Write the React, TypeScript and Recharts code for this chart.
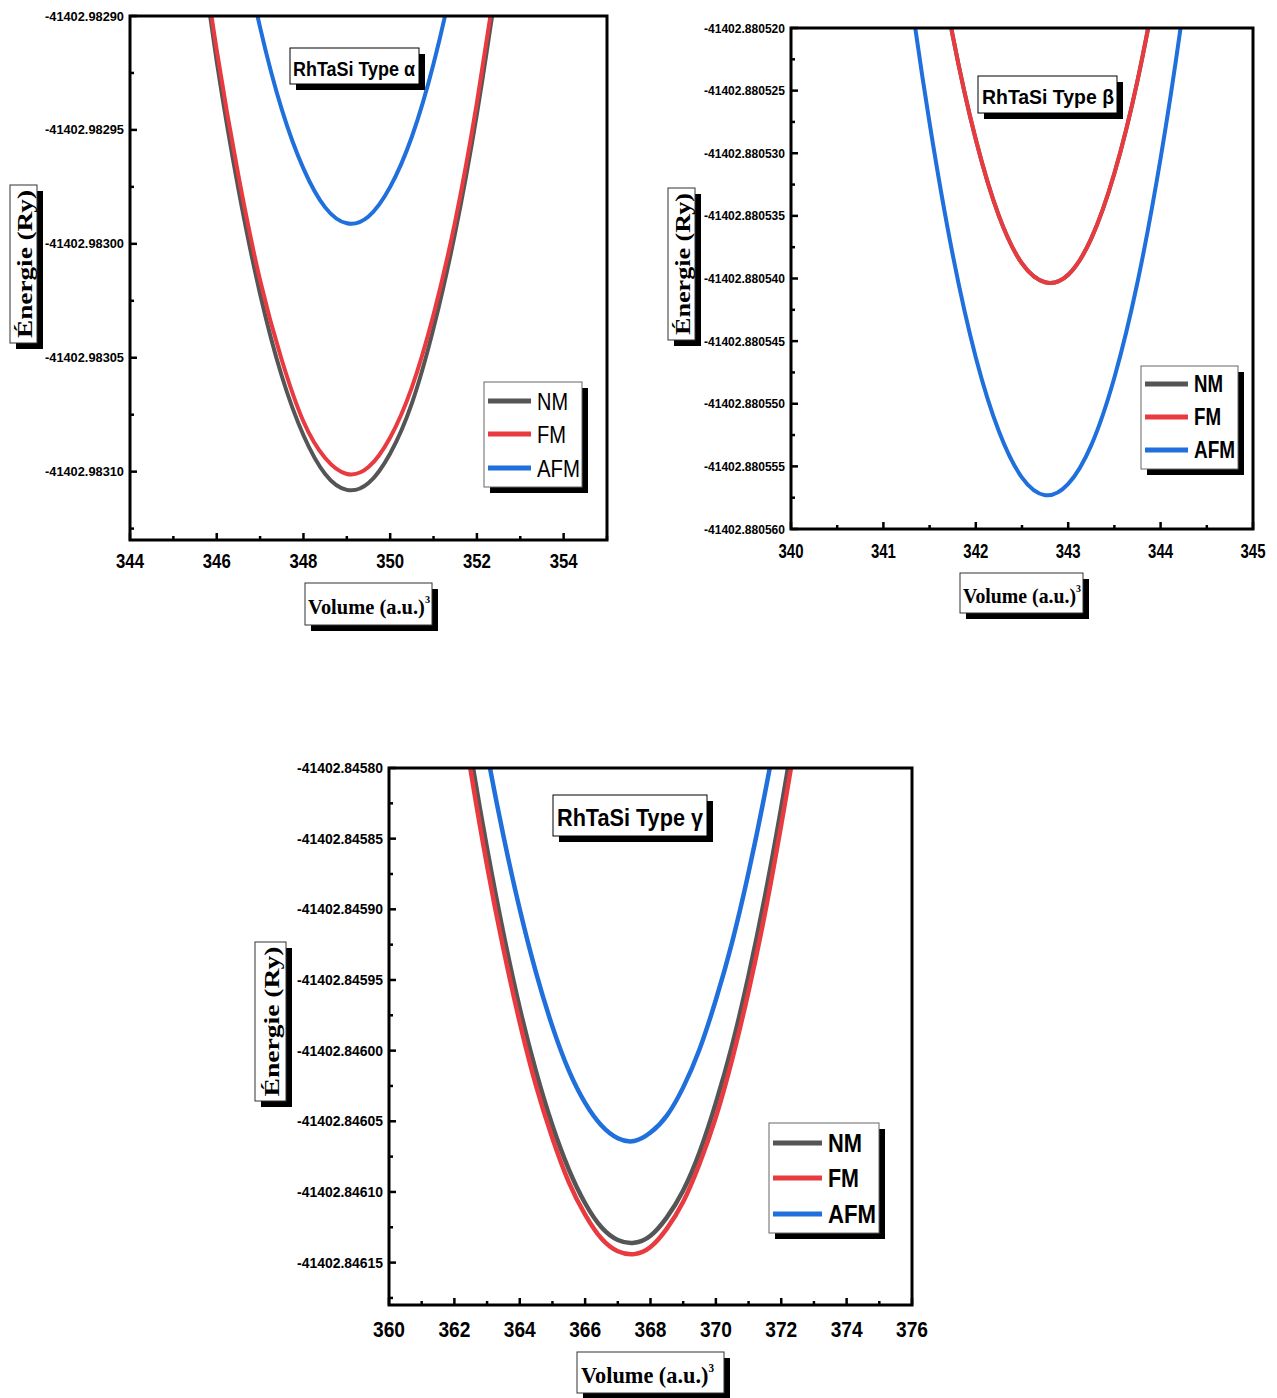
import React from "react";
import { LineChart, Line, XAxis, YAxis } from "recharts";

// ---------- RhTaSi Type α ----------
const alphaVolume = [345.5, 346, 346.5, 347, 347.5, 348, 348.5, 349, 349.5, 350, 350.5, 351, 351.5, 352, 352.5];
const alphaNM = [-41402.982854, -41402.98292, -41402.982976, -41402.983022, -41402.983058, -41402.983084, -41402.983101, -41402.983108, -41402.983105, -41402.983092, -41402.98307, -41402.983037, -41402.982995, -41402.982943, -41402.982881];
const alphaFM = [-41402.98285, -41402.982915, -41402.98297, -41402.983016, -41402.983051, -41402.983078, -41402.983094, -41402.983101, -41402.983098, -41402.983085, -41402.983063, -41402.983031, -41402.98299, -41402.982938, -41402.982877];
const alphaAFM = [-41402.982738, -41402.982804, -41402.982859, -41402.982905, -41402.982941, -41402.982967, -41402.982984, -41402.982991, -41402.982988, -41402.982975, -41402.982953, -41402.982921, -41402.982879, -41402.982827, -41402.982766];
const alphaXTicks = [344, 345, 346, 347, 348, 349, 350, 351, 352, 353, 354, 355];
const alphaYTicks = [-41402.9829, -41402.982925, -41402.98295, -41402.982975, -41402.983, -41402.983025, -41402.98305, -41402.983075, -41402.9831, -41402.983125];

// ---------- RhTaSi Type β ----------
const betaVolume = [341, 341.25, 341.5, 341.75, 342, 342.25, 342.5, 342.75, 343, 343.25, 343.5, 343.75, 344, 344.25, 344.5];
const betaFM = [-41402.8804822, -41402.8804972, -41402.88051, -41402.8805206, -41402.8805289, -41402.880535, -41402.8805388, -41402.8805403, -41402.8805397, -41402.8805368, -41402.8805316, -41402.8805242, -41402.8805145, -41402.8805026, -41402.8804885];
// NM lies under FM in this panel
const betaNM = [-41402.8804822, -41402.8804972, -41402.88051, -41402.8805206, -41402.8805289, -41402.880535, -41402.8805388, -41402.8805403, -41402.8805397, -41402.8805368, -41402.8805316, -41402.8805242, -41402.8805145, -41402.8805026, -41402.8804885];
const betaAFM = [-41402.8804999, -41402.8805149, -41402.8805276, -41402.8805381, -41402.8805463, -41402.8805522, -41402.8805559, -41402.8805573, -41402.8805564, -41402.8805533, -41402.8805479, -41402.8805403, -41402.8805304, -41402.8805182, -41402.8805038];
const betaXTicks = [340, 340.5, 341, 341.5, 342, 342.5, 343, 343.5, 344, 344.5, 345];
const betaYTicks = [-41402.88052, -41402.8805225, -41402.880525, -41402.8805275, -41402.88053, -41402.8805325, -41402.880535, -41402.8805375, -41402.88054, -41402.8805425, -41402.880545, -41402.8805475, -41402.88055, -41402.8805525, -41402.880555, -41402.8805575, -41402.88056];

// ---------- RhTaSi Type γ ----------
const gammaVolume = [362, 362.5, 363, 363.5, 364, 364.5, 365, 365.5, 366, 366.5, 367, 367.5, 368, 368.5, 369, 369.5, 370, 370.5, 371, 371.5, 372, 372.5, 373];
const gammaNM = [-41402.845715, -41402.84579, -41402.845857, -41402.845917, -41402.84597, -41402.846015, -41402.846053, -41402.846084, -41402.846108, -41402.846125, -41402.846134, -41402.846136, -41402.846131, -41402.846118, -41402.846099, -41402.846072, -41402.846037, -41402.845996, -41402.845947, -41402.845891, -41402.845828, -41402.845758, -41402.84568];
const gammaFM = [-41402.845729, -41402.845802, -41402.845869, -41402.845928, -41402.84598, -41402.846025, -41402.846062, -41402.846093, -41402.846116, -41402.846133, -41402.846142, -41402.846144, -41402.846139, -41402.846126, -41402.846107, -41402.84608, -41402.846047, -41402.846006, -41402.845958, -41402.845903, -41402.84584, -41402.845771, -41402.845694];
const gammaAFM = [-41402.845648, -41402.845722, -41402.845789, -41402.845848, -41402.8459, -41402.845945, -41402.845983, -41402.846014, -41402.846037, -41402.846053, -41402.846062, -41402.846064, -41402.846058, -41402.846046, -41402.846026, -41402.845999, -41402.845964, -41402.845923, -41402.845874, -41402.845818, -41402.845755, -41402.845685, -41402.845607];
const gammaXTicks = [360, 361, 362, 363, 364, 365, 366, 367, 368, 369, 370, 371, 372, 373, 374, 375, 376];
const gammaYTicks = [-41402.8458, -41402.845825, -41402.84585, -41402.845875, -41402.8459, -41402.845925, -41402.84595, -41402.845975, -41402.846, -41402.846025, -41402.84605, -41402.846075, -41402.8461, -41402.846125, -41402.84615, -41402.846175];

const seriesNames = ["NM", "FM", "AFM"];
const seriesColors = ["#555555", "#e83a3f", "#1f6fdc"];

const SANS = "'Liberation Sans', Arial, sans-serif";
const SERIF = "'Liberation Serif', 'Times New Roman', serif";

type PanelCfg = {
  left: number; top: number; width: number; height: number;
  plot: { l: number; t: number; r: number; b: number };
  volume: number[]; nm: number[]; fm: number[]; afm: number[];
  xDomain: [number, number]; yDomain: [number, number];
  xTicks: number[]; yTicks: number[];
  xDigits: number; yDigits: number;
  xFont: number; xLen: number; xBase: number;
  yFont: number; yLen: number;
  lineWidth: number;
};

const panels: PanelCfg[] = [
  {
    left: 0, top: 0, width: 640, height: 580,
    plot: { l: 130, t: 16, r: 607, b: 540 },
    volume: alphaVolume, nm: alphaNM, fm: alphaFM, afm: alphaAFM,
    xDomain: [344, 355], yDomain: [-41402.98313, -41402.9829],
    xTicks: alphaXTicks, yTicks: alphaYTicks, xDigits: 0, yDigits: 5,
    xFont: 21, xLen: 28, xBase: 28, yFont: 13, yLen: 79, lineWidth: 4,
  },
  {
    left: 690, top: 0, width: 587, height: 570,
    plot: { l: 791, t: 28, r: 1253, b: 529 },
    volume: betaVolume, nm: betaNM, fm: betaFM, afm: betaAFM,
    xDomain: [340, 345], yDomain: [-41402.88056, -41402.88052],
    xTicks: betaXTicks, yTicks: betaYTicks, xDigits: 0, yDigits: 6,
    xFont: 21, xLen: 25, xBase: 29, yFont: 13, yLen: 81, lineWidth: 4,
  },
  {
    left: 280, top: 750, width: 680, height: 600,
    plot: { l: 389, t: 768, r: 912, b: 1305 },
    volume: gammaVolume, nm: gammaNM, fm: gammaFM, afm: gammaAFM,
    xDomain: [360, 376], yDomain: [-41402.84618, -41402.8458],
    xTicks: gammaXTicks, yTicks: gammaYTicks, xDigits: 0, yDigits: 5,
    xFont: 22, xLen: 32, xBase: 32, yFont: 14, yLen: 86, lineWidth: 4.5,
  },
];

function Panel({ cfg }: { cfg: PanelCfg }) {
  const data = cfg.volume.map((v, i) => ({ v, nm: cfg.nm[i], fm: cfg.fm[i], afm: cfg.afm[i] }));
  const yw = cfg.plot.l - cfg.left;
  const x0 = yw;
  const yb = cfg.plot.b - cfg.top;
  const xh = cfg.top + cfg.height - 10 - cfg.plot.b;

  const yTick = (p: any) => {
    const major = p.index % 2 === 0;
    return (
      <g>
        <line x1={x0} x2={x0 + (major ? 7 : 4)} y1={p.y} y2={p.y} stroke="#000" strokeWidth={2.5} />
        {major && (
          <text x={x0 - 6} y={p.y} textAnchor="end" dominantBaseline="central" fontFamily={SANS}
            fontWeight="bold" fontSize={cfg.yFont} fill="#000" textLength={cfg.yLen} lengthAdjust="spacingAndGlyphs">
            {Number(p.payload.value).toFixed(cfg.yDigits)}
          </text>
        )}
      </g>
    );
  };

  const xTick = (p: any) => {
    const major = p.index % 2 === 0;
    return (
      <g>
        <line x1={p.x} x2={p.x} y1={yb} y2={yb - (major ? 7 : 4)} stroke="#000" strokeWidth={2.5} />
        {major && (
          <text x={p.x} y={yb + cfg.xBase} textAnchor="middle" fontFamily={SANS} fontWeight="bold"
            fontSize={cfg.xFont} fill="#000" textLength={cfg.xLen} lengthAdjust="spacingAndGlyphs">
            {Number(p.payload.value).toFixed(cfg.xDigits)}
          </text>
        )}
      </g>
    );
  };

  return (
    <div style={{ position: "absolute", left: cfg.left, top: cfg.top }}>
      <LineChart
        width={cfg.width}
        height={cfg.height}
        data={data}
        margin={{ top: cfg.plot.t - cfg.top, right: cfg.left + cfg.width - cfg.plot.r, left: 0, bottom: 10 }}
      >
        <XAxis type="number" dataKey="v" domain={cfg.xDomain} allowDataOverflow ticks={cfg.xTicks}
          interval={0} height={xh} axisLine={false} tickLine={false} tick={xTick} />
        <YAxis type="number" domain={cfg.yDomain} allowDataOverflow ticks={cfg.yTicks}
          interval={0} width={yw} axisLine={false} tickLine={false} tick={yTick} />
        <Line type="natural" dataKey="nm" stroke={seriesColors[0]} strokeWidth={cfg.lineWidth} dot={false} isAnimationActive={false} />
        <Line type="natural" dataKey="fm" stroke={seriesColors[1]} strokeWidth={cfg.lineWidth} dot={false} isAnimationActive={false} />
        <Line type="natural" dataKey="afm" stroke={seriesColors[2]} strokeWidth={cfg.lineWidth} dot={false} isAnimationActive={false} />
      </LineChart>
    </div>
  );
}

type Box = { x: number; y: number; w: number; h: number };

function ShadowBox({ b, stroke = "#000", sw = 1 }: { b: Box; stroke?: string; sw?: number }) {
  return (
    <g>
      <rect x={b.x + 6} y={b.y + 6} width={b.w} height={b.h} fill="#000" />
      <rect x={b.x} y={b.y} width={b.w} height={b.h} fill="#fff" stroke={stroke} strokeWidth={sw} />
    </g>
  );
}

function Decorations() {
  const titles = [
    { b: { x: 290, y: 48, w: 129, h: 36 }, text: "RhTaSi Type α", tx: 293, ty: 76, fs: 21, len: 122 },
    { b: { x: 978, y: 76, w: 139, h: 37 }, text: "RhTaSi Type β", tx: 982, ty: 104, fs: 21, len: 132 },
    { b: { x: 553, y: 795, w: 154, h: 41 }, text: "RhTaSi Type γ", tx: 557, ty: 826, fs: 23, len: 146 },
  ];
  const legends = [
    { b: { x: 484, y: 382, w: 98, h: 105 }, rows: [401, 434, 468], lx: 488, lw: 43, tx: 537, fs: 24, bold: false, lens: [31, 29, 43] },
    { b: { x: 1141, y: 366, w: 97, h: 103 }, rows: [384, 417, 450], lx: 1145, lw: 43, tx: 1194, fs: 23, bold: true, lens: [29, 27, 41] },
    { b: { x: 769, y: 1123, w: 110, h: 110 }, rows: [1143, 1178, 1214], lx: 773, lw: 49, tx: 828, fs: 25, bold: true, lens: [34, 31, 48] },
  ];
  const yLabels = [
    { b: { x: 10, y: 185, w: 27, h: 158 }, fs: 21, len: 148 },
    { b: { x: 668, y: 188, w: 27, h: 152 }, fs: 20, len: 142 },
    { b: { x: 255, y: 942, w: 31, h: 159 }, fs: 22, len: 150 },
  ];
  const xLabels = [
    { b: { x: 305, y: 583, w: 127, h: 42 }, tx: 308, ty: 614, fs: 22, len: 122 },
    { b: { x: 960, y: 573, w: 123, h: 40 }, tx: 963, ty: 603, fs: 21, len: 118 },
    { b: { x: 577, y: 1352, w: 147, h: 41 }, tx: 581, ty: 1383, fs: 23, len: 133 },
  ];

  return (
    <svg width={1277} height={1398} style={{ position: "absolute", left: 0, top: 0, pointerEvents: "none" }}>
      {panels.map((p, i) => (
        <rect key={"f" + i} x={p.plot.l} y={p.plot.t} width={p.plot.r - p.plot.l} height={p.plot.b - p.plot.t}
          fill="none" stroke="#000" strokeWidth={3} />
      ))}
      {titles.map((t, i) => (
        <g key={"t" + i}>
          <ShadowBox b={t.b} />
          <text x={t.tx} y={t.ty} fontFamily={SANS} fontWeight="bold" fontSize={t.fs} fill="#000"
            textLength={t.len} lengthAdjust="spacingAndGlyphs">{t.text}</text>
        </g>
      ))}
      {legends.map((l, i) => (
        <g key={"l" + i}>
          <ShadowBox b={l.b} stroke="#666" />
          {seriesNames.map((n, j) => (
            <g key={n}>
              <line x1={l.lx} x2={l.lx + l.lw} y1={l.rows[j]} y2={l.rows[j]} stroke={seriesColors[j]} strokeWidth={5} />
              <text x={l.tx} y={l.rows[j]} dominantBaseline="central" fontFamily={SANS} fontWeight={l.bold ? "bold" : "normal"}
                fontSize={l.fs} fill="#000" textLength={l.lens[j]} lengthAdjust="spacingAndGlyphs">{n}</text>
            </g>
          ))}
        </g>
      ))}
      {yLabels.map((y, i) => {
        const cx = y.b.x + y.b.w / 2 + 1;
        const cy = y.b.y + y.b.h / 2;
        return (
          <g key={"y" + i}>
            <ShadowBox b={y.b} stroke="#333" />
            <text x={cx} y={cy} transform={`rotate(-90 ${cx} ${cy})`} textAnchor="middle" dominantBaseline="central"
              fontFamily={SERIF} fontWeight="bold" fontSize={y.fs} fill="#000" textLength={y.len} lengthAdjust="spacingAndGlyphs">
              Énergie (Ry)
            </text>
          </g>
        );
      })}
      {xLabels.map((x, i) => (
        <g key={"x" + i}>
          <ShadowBox b={x.b} stroke="#333" />
          <text x={x.tx} y={x.ty} fontFamily={SERIF} fontWeight="bold" fontSize={x.fs} fill="#000"
            textLength={x.len} lengthAdjust="spacingAndGlyphs">
            Volume (a.u.)<tspan dy={-11} fontSize={x.fs * 0.5}>3</tspan>
          </text>
        </g>
      ))}
    </svg>
  );
}

export default function App() {
  return (
    <div style={{ position: "absolute", left: 0, top: 0, width: 1277, height: 1398, background: "#fff" }}>
      {panels.map((p, i) => (
        <Panel key={i} cfg={p} />
      ))}
      <Decorations />
    </div>
  );
}
